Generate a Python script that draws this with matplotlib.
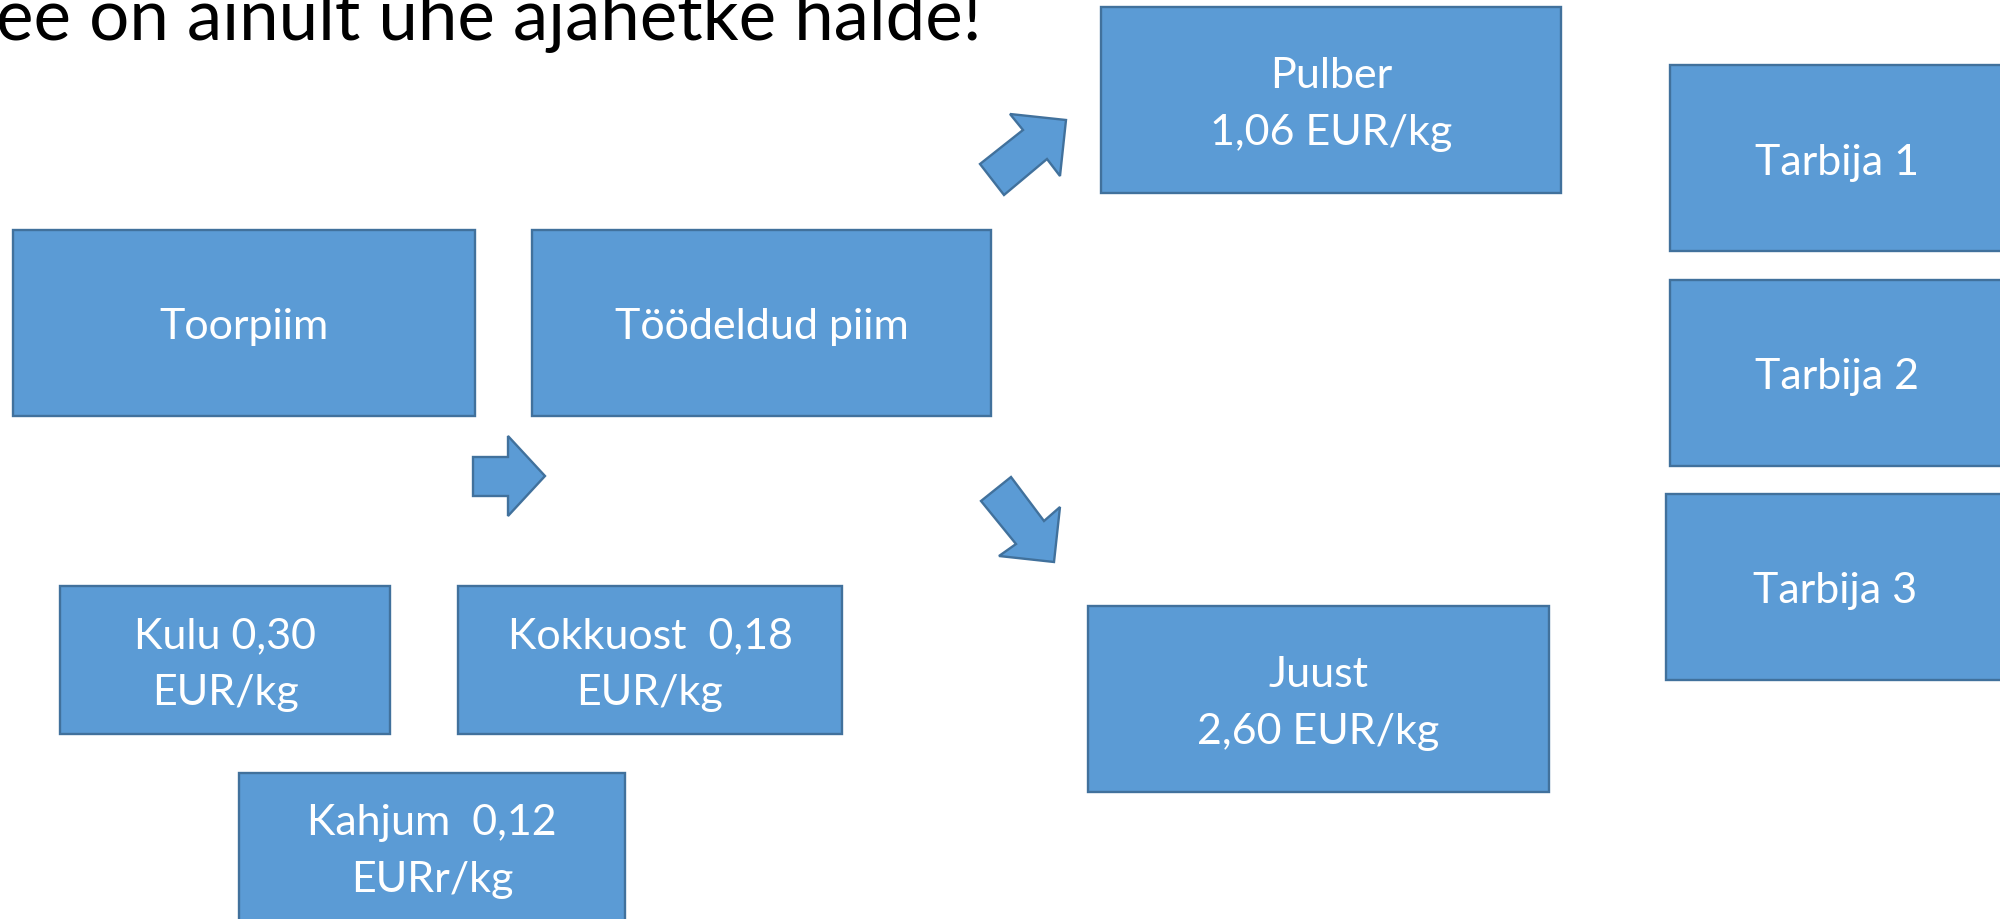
import matplotlib
matplotlib.use("Agg")
import matplotlib.pyplot as plt
from matplotlib.patches import Rectangle, Polygon

# ---------------- data (texts) ----------------
title_text = "ee on ainult ühe ajahetke halde!"
stage_labels = ["Toorpiim", "Töödeldud piim"]
product_names = ["Pulber", "Juust"]
product_prices = ["1,06 EUR/kg", "2,60 EUR/kg"]
cost_lines = [["Kulu 0,30", "EUR/kg"],
              ["Kokkuost  0,18", "EUR/kg"],
              ["Kahjum  0,12", "EURr/kg"]]
consumer_labels = ["Tarbija 1", "Tarbija 2", "Tarbija 3"]

# ---------------- layout (pixel canvas, y downwards) ----------------
W, H = 2000, 920
stage_boxes = [(13, 231, 462, 186), (532, 231, 459, 186)]
product_boxes = [(1101, 8, 460, 186), (1088, 607, 461, 186)]
cost_boxes = [(60, 587, 330, 148), (458, 587, 384, 148), (239, 774, 386, 148)]
consumer_boxes = [(1670, 66, 334, 186), (1670, 281, 334, 186), (1666, 495, 338, 186)]

arrow_right = [(473, 458), (508, 458), (508, 437), (545, 477), (508, 517), (508, 497), (473, 497)]
arrow_up = [(980, 165), (1023, 131), (1010, 115), (1066, 121), (1060, 177), (1047, 160), (1004, 196)]
arrow_down = [(981, 502), (1011, 478), (1044, 522), (1060, 508), (1054, 563), (999, 557), (1016, 545)]

FILL = "#5B9BD5"
EDGE = "#41719C"
LW = 1.7
FONT = "Lato"
FS = 31
CAP = 31
LINE_GAP = 57

fig = plt.figure(figsize=(W / 100, H / 100), dpi=100)
ax = fig.add_axes([0, 0, 1, 1])
ax.set_xlim(0, W)
ax.set_ylim(H, 0)
ax.axis("off")


def box(rect):
    x, y, w, h = rect
    ax.add_patch(Rectangle((x, y), w, h, facecolor=FILL, edgecolor=EDGE,
                           linewidth=LW, joinstyle="miter"))


def text_lines(rect, lines, fs=FS, cap=CAP):
    x, y, w, h = rect
    cx, cy = x + w / 2, y + h / 2
    n = len(lines)
    for i, line in enumerate(lines):
        base = cy + cap / 2 + (i - (n - 1) / 2) * LINE_GAP
        ax.text(cx, base, line, color="white", fontsize=fs, family=FONT,
                ha="center", va="baseline")


for rect, lab in zip(stage_boxes, stage_labels):
    box(rect)
    text_lines(rect, [lab])

for rect, name, price in zip(product_boxes, product_names, product_prices):
    box(rect)
    text_lines(rect, [name, price])

for rect, lines in zip(cost_boxes, cost_lines):
    box(rect)
    text_lines(rect, lines)

for rect, lab in zip(consumer_boxes, consumer_labels):
    box(rect)
    text_lines(rect, [lab])

for pts in (arrow_right, arrow_up, arrow_down):
    ax.add_patch(Polygon(pts, closed=True, facecolor=FILL, edgecolor=EDGE,
                         linewidth=LW, joinstyle="miter"))

ax.text(-4, 40, title_text, color="black", fontsize=51, family=FONT,
        ha="left", va="baseline")

fig.savefig("out.png", dpi=100)
